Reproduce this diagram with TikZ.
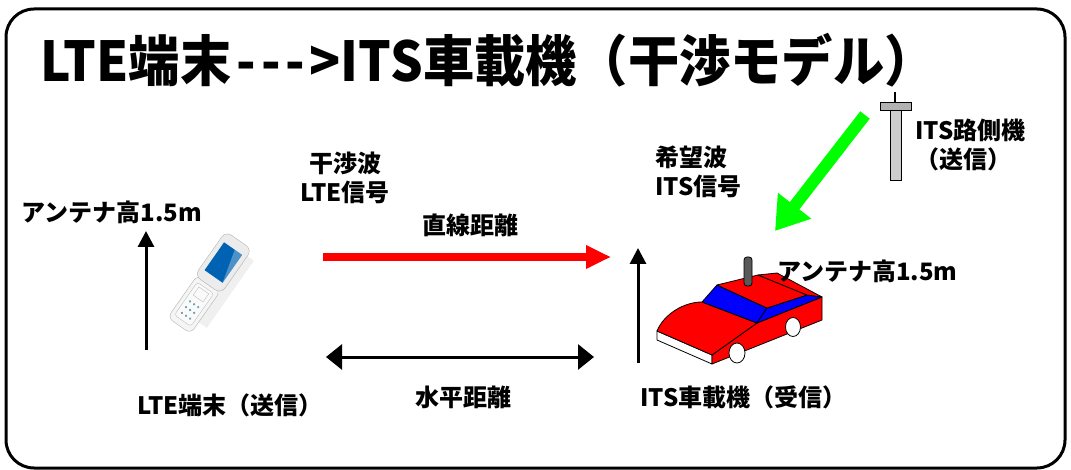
\documentclass[tikz,border=0pt]{standalone}
\usepackage{fontspec}
\setmainfont{Noto Sans CJK JP}
\usetikzlibrary{arrows.meta}

\begin{document}
\begin{tikzpicture}[x=1pt,y=-1pt,
  lbl/.style={font=\fontsize{24}{29}\selectfont\bfseries, inner sep=0pt},
  hgt/.style={line width=3pt, -{Triangle[width=16pt,length=16pt]}},
  carline/.style={draw=black, line width=0.8pt, line join=round}]
\useasboundingbox (0,0) rectangle (1071,470);
\draw[line width=3pt, rounded corners=28pt] (6,9) rectangle (1065,468);

\node[anchor=west, font=\fontsize{50}{52}\selectfont\bfseries, inner sep=0pt] (title) at (40,60)
  {\scalebox{1.025}[1.1]{LTE端末\kern5pt-\kern5pt-\kern5pt-\kern4pt>ITS車載機（干渉モデル）}};

% phone
\begin{scope}[shift={(209,283)}, rotate=55]
  \fill[gray!12] (-38,-8) rectangle (44,24);
  \draw[gray!60, fill=gray!8, rounded corners=6pt] (-52,-14) rectangle (0,14);
  \draw[gray!60, fill=gray!15, rounded corners=7pt] (-2,-16) rectangle (52,16);
  \draw[gray!50, fill=gray!4, rounded corners=3pt] (-46,-10) rectangle (-6,10);
  \fill[blue!45!cyan!70!black] (8,-11) rectangle (42,11);
  \fill[white, opacity=.3] (8,11) -- (42,11) -- (42,2) -- cycle;
  \foreach \i in {-40,-33,-26} \foreach \j in {-5,0,5} \fill[cyan!40!gray] (\i,\j) circle (1.3pt);
  \draw[gray!50] (-19,-6) rectangle (-9,6);
\end{scope}

% heights
\coordinate (lbase) at (146,350);
\coordinate (ltop) at (146,231);
\draw[hgt] (lbase) -- (ltop);
\coordinate (rbase) at (638,363);
\coordinate (rtop) at (638,248);
\draw[hgt] (rbase) -- (rtop);

% direct and horizontal distance
\coordinate (lte) at (323,257);
\coordinate (its) at (611,257);
\draw[red, line width=8pt, -{Triangle[width=22pt,length=25pt]}] (lte) -- (its);
\coordinate (hl) at (326,357);
\coordinate (hr) at (594,357);
\draw[line width=3pt, {Triangle[width=25pt,length=16pt]}-{Triangle[width=25pt,length=16pt]}] (hl) -- (hr);

% roadside unit
\coordinate (rsu) at (865,115);
\coordinate (obu) at (775,231);
\draw[green, line width=12pt, -{Triangle[width=40pt,length=32pt]}] (rsu) -- (obu);
\draw[line width=2.5pt] (895,92) -- (895,103);
\draw[fill=gray!60, line width=1pt] (880,103) rectangle (911,111);
\draw[fill=gray!40, line width=1pt] (890,111) rectangle (901,181);

% car
\begin{scope}[carline]
  \coordinate (A) at (657,331); \coordinate (A2) at (657,340);
  \coordinate (B) at (712,355); \coordinate (B2) at (712,364);
  \coordinate (C) at (822,297); \coordinate (C2) at (822,320);
  \coordinate (D) at (702,302); \coordinate (E) at (757,323);
  \coordinate (F) at (717,285); \coordinate (G) at (767,308);
  \coordinate (H) at (758,275); \coordinate (I) at (807,295);
  \coordinate (J) at (777,273);
  \filldraw[fill=white] (A) -- (A2) -- (B2) -- (B) -- cycle;
  \filldraw[fill=red] (B) -- (B2) -- (C2) -- (C) -- (E) -- cycle;
  \filldraw[fill=red] (A) .. controls (664,314) and (684,302) .. (D) -- (E) -- (B) -- cycle;
  \filldraw[fill=blue] (D) -- (E) -- (G) -- (F) -- cycle;
  \filldraw[fill=blue] (E) -- (G) -- (I) -- (C) -- cycle;
  \filldraw[fill=red] (F) -- (G) -- (I) -- (H) -- cycle;
  \filldraw[fill=red] (H) -- (J) -- (C) -- (I) -- cycle;
  \filldraw[fill=white] (793,327) ellipse (7.5pt and 9.5pt);
  \filldraw[fill=white] (737,353) ellipse (8pt and 10pt);
  \filldraw[fill=gray!70!black, rounded corners=3pt] (744,257) rectangle (752,286);
\end{scope}

% labels
\node[lbl] (antL) at (112,212) {アンテナ高1.5m};
\node[lbl, align=center] (intf) at (345,178) {干渉波\\LTE信号};
\node[lbl] (direct) at (470,225) {直線距離};
\node[lbl, align=left, anchor=west] (want) at (655,172) {希望波\\ITS信号};
\node[lbl, align=left, anchor=west] (rsuL) at (915,145) {ITS路側機\\（送信）};
\node[lbl, anchor=west] (antR) at (777,271) {アンテナ高1.5m};
\node[lbl] (horiz) at (463,397) {水平距離};
\node[lbl] (lteL) at (230,405) {LTE端末（送信）};
\node[lbl, anchor=west] (itsL) at (640,397) {ITS車載機（受信）};
\end{tikzpicture}
\end{document}
